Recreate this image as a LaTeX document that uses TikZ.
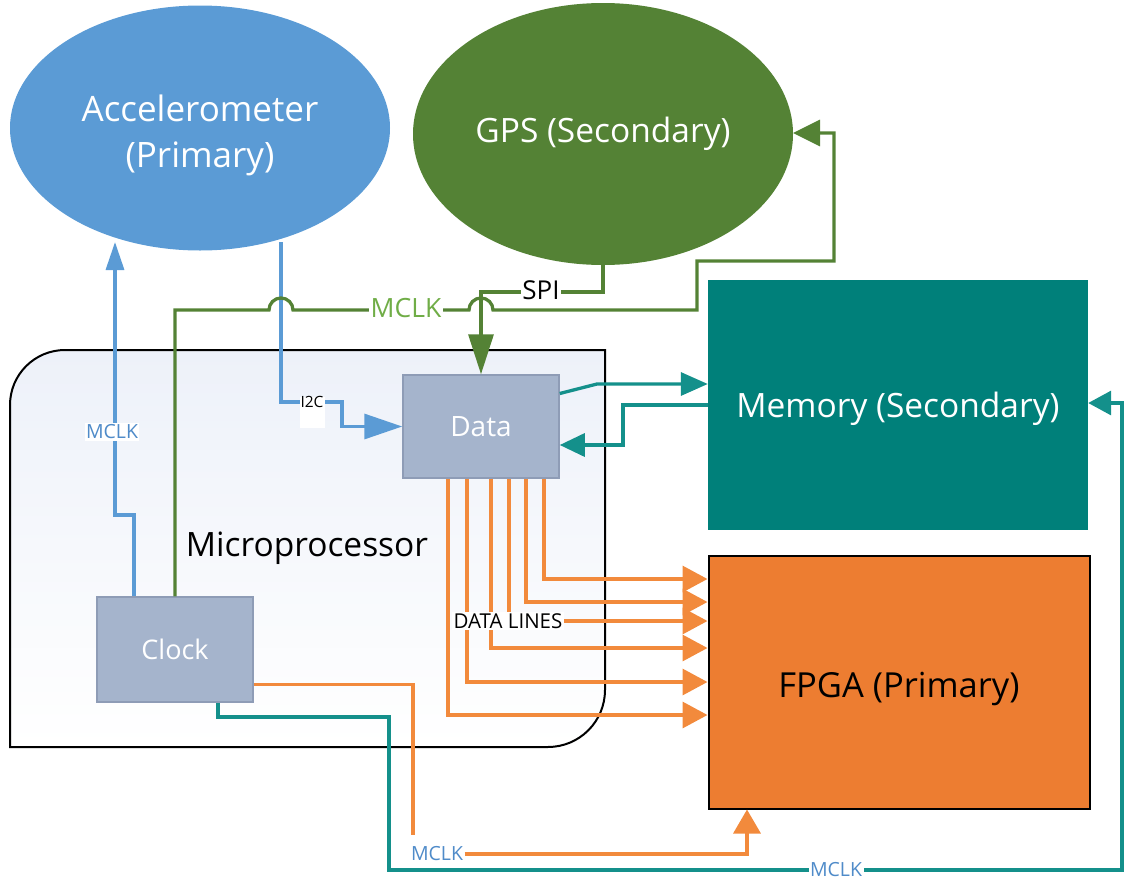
\documentclass[tikz,border=0pt]{standalone}
\usepackage{fontspec}
\setmainfont{Open Sans}
\usetikzlibrary{arrows.meta,shapes.geometric,calc}
\definecolor{accblue}{HTML}{5B9BD5}
\definecolor{gpsgreen}{HTML}{548235}
\definecolor{lgreen}{HTML}{70AD47}
\definecolor{memteal}{HTML}{00807A}
\definecolor{lteal}{HTML}{14908B}
\definecolor{fpgaor}{HTML}{ED7D31}
\definecolor{lorange}{HTML}{F28A3C}
\definecolor{boxfill}{HTML}{A5B4CC}
\definecolor{boxline}{HTML}{8E9CB6}
\definecolor{tblue}{HTML}{4F8BC9}
\definecolor{mpfill}{HTML}{EDF1F9}
\tikzset{
  conn/.style={line width=3.3pt},
  bl/.style={conn, draw=accblue},
  gr/.style={conn, draw=gpsgreen},
  tl/.style={conn, draw=lteal},
  orl/.style={conn, draw=lorange},
  big/.style={font=\fontsize{33.5}{46}\selectfont, text=white, align=center},
  smallbox/.style={fill=boxfill, draw=boxline, line width=1.5pt, text=white, font=\fontsize{28}{32}\selectfont},
  lab/.style={fill=white, inner sep=1.5pt},
}
\begin{document}
\begin{tikzpicture}[x=1pt,y=-1pt]
\useasboundingbox (0,0) rectangle (1125,884);
% microprocessor
\path[draw=black, line width=2pt, top color=mpfill, bottom color=white]
  (10,747) -- (10,405) arc[start angle=180,end angle=90,radius=55pt] -- (605,350)
  -- (605,690) arc[start angle=0,end angle=-90,radius=57pt] -- cycle;
\node[font=\fontsize{33.5}{38}\selectfont] (mp) at (307,548) {Microprocessor};
% main shapes
\node[ellipse, fill=accblue, minimum width=380pt, minimum height=245pt, inner sep=0] (acc) at (200,128) {};
\node[big, font=\fontsize{35}{46}\selectfont] (acctext) at (200,135) {Accelerometer\\(Primary)};
\node[ellipse, fill=gpsgreen, minimum width=380pt, minimum height=262pt, inner sep=0, big] (gps) at (603,134) {GPS (Secondary)};
\node[fill=memteal, minimum width=380pt, minimum height=250pt, inner sep=0, big] (mem) at (898,405) {\raisebox{-4pt}[\height][\depth]{Memory (Secondary)}};
\node[fill=fpgaor, draw=black, line width=2pt, minimum width=381pt, minimum height=253pt, inner sep=0, big, text=black, font=\fontsize{34.5}{40}\selectfont] (fpga) at (899,682) {\raisebox{-7pt}[\height][\depth]{FPGA (Primary)}};
\node[smallbox, minimum width=156pt, minimum height=103pt] (data) at (481,426.5) {Data};
\node[smallbox, minimum width=156pt, minimum height=105pt, font=\fontsize{27}{32}\selectfont] (clock) at (175,649.5) {Clock};
% coordinates on ellipse borders
\coordinate (accA) at (115,242);
\coordinate (accB) at (281,242);
\coordinate (gpsR) at (793,133);
% blue MCLK to accelerometer
\draw[bl, -{Triangle[length=28pt,width=18pt]}] ([xshift=-41pt]clock.north) |- (115,515) -- (accA);
\node[lab, text=tblue, font=\fontsize{19.5}{22}\selectfont] (mclka) at (112,432) {MCLK};
% I2C
\draw[bl, -{Triangle[length=38pt,width=25pt]}] (accB) |- (342,402) |- (data.west);
\node[fill=white, minimum width=25pt, minimum height=31pt, inner sep=0] (i2cbox) at (312,412) {};
\node[font=\fontsize{15.5}{17}\selectfont, inner sep=0] (i2c) at (312,402) {I2C};
% green MCLK to GPS
\draw[gr, -{Triangle[length=27pt,width=26pt]}] (clock.north) -- (clock.north |- 0,310) -- (269,310)
  arc[start angle=180,end angle=0,radius=12pt] -- (469,310)
  arc[start angle=180,end angle=0,radius=12pt] -- (697,310) -- (697,261) -- (834,261) |- (gpsR);
\node[lab, text=lgreen, font=\fontsize{26.5}{30}\selectfont] (mclkg) at (406,308) {MCLK};
% SPI
\draw[gr, -{Triangle[length=40pt,width=25pt]}] (gps.south) |- (data.north |- 0,292) -- (data.north);
\node[lab, font=\fontsize{26}{28}\selectfont, inner sep=1pt] (spi) at (541,290) {SPI};
% teal data <-> memory
\draw[tl, -{Triangle[length=27pt,width=23pt]}] ([yshift=33pt]data.east) -- (597,384) -- (mem.west |- 0,384);
\draw[tl, -{Triangle[length=25pt,width=23pt]}] (mem.west) -| (623,445) -- (data.east |- 0,445);
% data lines
\foreach \dx/\yy in {-33/715, -14/682, 10/648, 45/602, 63/579}
  \draw[orl, -{Triangle[length=25pt,width=26pt]}] ([xshift=\dx pt]data.south) |- (fpga.west |- 0,\yy);
\node[lab, font=\fontsize{20.5}{22}\selectfont] (dl) at (508,621) {DATA LINES};
\draw[orl] ([xshift=28pt]data.south) -- ([xshift=28pt]data.south |- dl.north);
\draw[orl, -{Triangle[length=25pt,width=26pt]}] (dl.east) -- (fpga.west |- dl.east);
% clock MCLK to FPGA
\draw[orl] ([yshift=-35pt]clock.east) -| (413,835);
\node[lab, text=tblue, font=\fontsize{19.5}{22}\selectfont] (mclkb) at (437,854) {MCLK};
\draw[orl, -{Triangle[length=24pt,width=27pt]}] (mclkb.east) -| (fpga.south -| 747,0);
% clock MCLK to memory
\draw[tl, -{Triangle[length=23pt,width=24pt]}] ([xshift=43pt]clock.south) |- (389,717) |- (1122,870) |- (mem.east |- 0,403);
\node[lab, text=tblue, font=\fontsize{19.5}{22}\selectfont] (mclkc) at (836,870) {MCLK};
\end{tikzpicture}
\end{document}
